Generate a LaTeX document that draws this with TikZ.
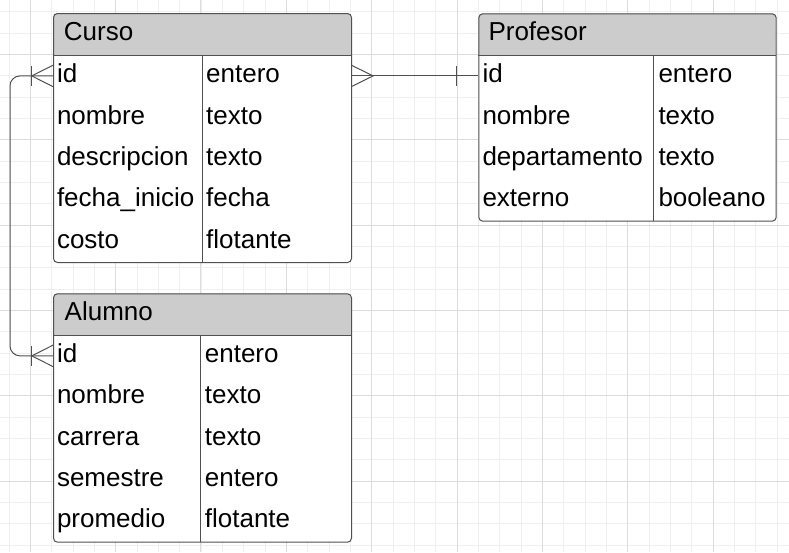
\documentclass[tikz,border=0pt]{standalone}
\usepackage{fontspec}
\setmainfont{Liberation Sans}
\usetikzlibrary{calc}
\definecolor{gridminor}{HTML}{EFEFEF}
\definecolor{gridmajor}{HTML}{DCDCDC}
\definecolor{hdrfill}{HTML}{CCCCCC}
\definecolor{edge}{HTML}{505050}
\tikzset{
  tablebox/.style={draw=edge, line width=1pt, rounded corners=4pt, inner sep=0pt, anchor=north west},
  rowbox/.style={inner sep=0pt, anchor=north west, minimum height=41.4pt},
  lbl/.style={font=\fontsize{26}{30}\selectfont, inner sep=0pt, anchor=base west, text=black},
  conn/.style={draw=edge, line width=1pt},
  sepline/.style={draw=edge, line width=1pt},
}
\begin{document}
\begin{tikzpicture}[x=1pt,y=-1pt]
\useasboundingbox (0,0) rectangle (789,552);
\fill[white] (0,0) rectangle (789,552);
% grid
\foreach \i in {0,...,37} \draw[gridminor, line width=1pt] ({9+21.333*\i},0) -- ({9+21.333*\i},552);
\foreach \j in {0,...,25} \draw[gridminor, line width=1pt] (0,{11.7+21.333*\j}) -- (789,{11.7+21.333*\j});
\foreach \i in {0,...,9} \draw[gridmajor, line width=1pt] ({30.33+85.333*\i},0) -- ({30.33+85.333*\i},552);
\foreach \j in {0,...,6} \draw[gridmajor, line width=1pt] (0,{54.4+85.333*\j}) -- (789,{54.4+85.333*\j});

% ---------- Curso ----------
\fill[white, rounded corners=4pt] (53,13) rectangle (351,262);
\begin{scope}
  \clip[rounded corners=4pt] (53,13) rectangle (351,262);
  \fill[hdrfill] (53,13) rectangle (351,55);
\end{scope}
\draw[sepline] (53,55) -- (351,55);
\draw[sepline] (202,55) -- (202,262);
\node[tablebox, minimum width=298pt, minimum height=249pt] (curso) at (53,13) {};
\node[rowbox, minimum width=298pt] (curso-r1) at (53,55) {};
\node[lbl] (curso-h) at (63.7,40.2) {Curso};
\foreach \n/\t [count=\i] in {id/entero, nombre/texto, descripcion/texto, fecha\_inicio/fecha, costo/flotante} {
  \node[lbl] (c-n\i) at (56.8,{55+41.4*(\i-1)+27.6}) {\n};
  \node[lbl] (c-t\i) at (206,{55+41.4*(\i-1)+27.6}) {\t};
}

% ---------- Profesor ----------
\fill[white, rounded corners=4pt] (478.3,13.3) rectangle (775.7,220.7);
\begin{scope}
  \clip[rounded corners=4pt] (478.3,13.3) rectangle (775.7,220.7);
  \fill[hdrfill] (478.3,13.3) rectangle (775.7,55);
\end{scope}
\draw[sepline] (478.3,55) -- (775.7,55);
\draw[sepline] (653.7,55) -- (653.7,220.7);
\node[tablebox, minimum width=297.4pt, minimum height=207.4pt] (prof) at (478.3,13.3) {};
\node[rowbox, minimum width=297.4pt] (prof-r1) at (478.3,55) {};
\node[lbl] (prof-h) at (488.3,40.6) {Profesor};
\foreach \n/\t [count=\i] in {id/entero, nombre/texto, departamento/texto, externo/booleano} {
  \node[lbl] (p-n\i) at (482.3,{55+41.4*(\i-1)+27.6}) {\n};
  \node[lbl] (p-t\i) at (658.3,{55+41.4*(\i-1)+27.6}) {\t};
}

% ---------- Alumno ----------
\fill[white, rounded corners=4pt] (53,293.3) rectangle (351,541.7);
\begin{scope}
  \clip[rounded corners=4pt] (53,293.3) rectangle (351,541.7);
  \fill[hdrfill] (53,293.3) rectangle (351,335);
\end{scope}
\draw[sepline] (53,335) -- (351,335);
\draw[sepline] (200.3,335) -- (200.3,541.7);
\node[tablebox, minimum width=298pt, minimum height=248.4pt] (alumno) at (53,293.3) {};
\node[rowbox, minimum width=298pt, minimum height=41.34pt] (alumno-r1) at (53,335) {};
\node[lbl] (alumno-h) at (64.5,320) {Alumno};
\foreach \n/\t [count=\i] in {id/entero, nombre/texto, carrera/texto, semestre/entero, promedio/flotante} {
  \node[lbl] (a-n\i) at (56.8,{335+41.34*(\i-1)+27.6}) {\n};
  \node[lbl] (a-t\i) at (204.7,{335+41.34*(\i-1)+27.6}) {\t};
}

% ---------- Connector Curso -- Profesor ----------
\draw[conn] (curso-r1.east) -- (prof-r1.west);
\draw[conn] ($(curso-r1.east)+(0,-10.7)$) -- ($(curso-r1.east)+(21.7,0)$) -- ($(curso-r1.east)+(0,10.7)$);
\draw[conn] ($(prof-r1.west)+(-21.6,-10)$) -- ($(prof-r1.west)+(-21.6,10)$);

% ---------- Connector Curso -- Alumno ----------
\coordinate (loop) at (10,0);
\draw[conn, rounded corners=10pt] (curso-r1.west) -- (curso-r1.west -| loop) -- (alumno-r1.west -| loop) -- (alumno-r1.west);
\draw[conn] ($(curso-r1.west)+(0,-10.7)$) -- ($(curso-r1.west)+(-21.3,0)$) -- ($(curso-r1.west)+(0,10.7)$);
\draw[conn] ($(curso-r1.west)+(-21.3,-10)$) -- ($(curso-r1.west)+(-21.3,10)$);
\draw[conn] ($(alumno-r1.west)+(0,-10.7)$) -- ($(alumno-r1.west)+(-21.3,0)$) -- ($(alumno-r1.west)+(0,10.7)$);
\draw[conn] ($(alumno-r1.west)+(-21.3,-10)$) -- ($(alumno-r1.west)+(-21.3,10)$);
\end{tikzpicture}
\end{document}
